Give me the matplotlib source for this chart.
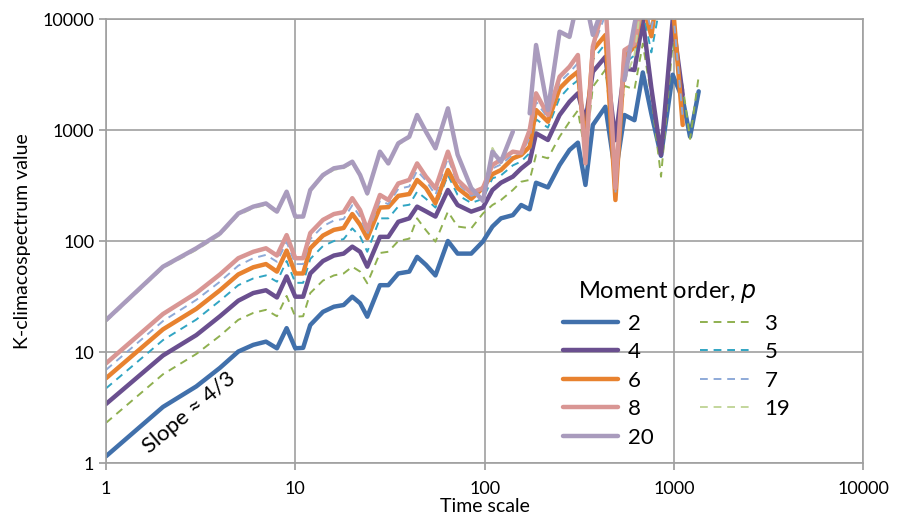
import numpy as np
import matplotlib.pyplot as plt
from matplotlib.ticker import FixedLocator, FixedFormatter, NullLocator

nan = np.nan

# time scales
scales = [1, 2, 3, 4, 5, 6, 7, 8, 9, 10, 11, 12, 14, 16, 18, 20, 22, 24,
          28, 31, 35, 40, 44, 49, 55, 64, 72, 85, 98, 110, 122, 141, 156,
          173, 187, 216, 249, 281, 311, 341, 373, 435, 491, 548, 619, 685,
          760, 855, 985, 1113, 1217, 1352]

p2 = [1.15, 3.2, 4.9, 7.2, 10.1, 11.6, 12.4, 10.8, 16.4, 10.8, 10.9, 17.5,
      23, 25.6, 26.5, 31.5, 27.5, 20.8, 40, 40, 51, 53, 72, 61, 49, 100, 77,
      77, 99, 135, 160, 171, 211, 193, 335, 304, 484, 661, 769, 320, 1110,
      1620, 400, 1365, 1225, 3300, 1400, 585, 3150, 1900, 870, 2230]
p3 = [2.3, 6.3, 9.6, 14, 19.5, 22.5, 24, 21, 32, 20.8, 21, 34, 44, 49, 51,
      58.7, 53, 41.6, 78, 80, 100, 105, 160, 125, 98.6, 184, 135, 130, 177,
      211, 234, 288, 342, 355, 595, 556, 871, 1188, 1500, 600, 2450, 3500,
      500, 2500, 2320, 6000, 2000, 380, 6000, 2500, 830, 3060]
p4 = [3.4, 9.3, 14.2, 21, 29, 34, 36, 31, 48, 31.5, 31.5, 51, 66, 74, 77, 89,
      80, 58.7, 109, 109, 149, 160, 204, 185, 166, 288, 211, 184, 200, 288,
      335, 380, 450, 518, 933, 813, 1365, 1800, 2140, 1200, 3350, 4570, 810,
      3590, 3470, 9800, 2400, 595, 9800, 2070, nan, nan]
p5 = [4.7, 12.8, 19.6, 29, 40, 46, 49, 43, 66, 42, 42, 69, 90, 100, 104, 130,
      110, 80, 160, 160, 205, 212, 278, 240, 200, 393, 260, 220, 240, 367,
      390, 480, 520, 620, 1250, 1050, 1950, 2450, 2800, 650, 4300, 6000, 300,
      4000, 4700, 12000, 5000, 15000, 12000, 1400, nan, nan]
p6 = [5.8, 16, 24.5, 36, 50, 58, 62, 53, 82, 51, 51, 86, 112, 126, 131, 175,
      140, 106, 200, 202, 255, 265, 355, 300, 219, 436, 300, 240, 300, 400,
      436, 556, 595, 708, 1514, 1188, 2370, 2920, 3350, 700, 5250, 7180, 234,
      4570, 5630, 14000, 7000, 30000, 14000, 1110, nan, nan]
p7 = [6.9, 19, 29.5, 43, 60, 70, 75, 65, 98, 62, 62, 104, 136, 153, 158, 210,
      165, 115, 230, 215, 295, 310, 430, 350, 260, 560, 330, 255, 280, 450,
      490, 600, 610, 850, 1800, 1280, 2700, 3300, 4000, 600, 5400, 11000, 270,
      5000, 5800, 15000, 8000, 25000, 13000, 1300, nan, nan]
p8 = [7.9, 22, 34, 50, 70, 80, 86, 74, 113, 70, 70, 118, 155, 175, 182, 243,
      190, 126, 260, 234, 330, 355, 500, 380, 298, 638, 355, 270, 300, 484,
      540, 638, 620, 1000, 2140, 1365, 3020, 3720, 4740, 500, 5630, 15000, 300,
      5250, 6000, 15000, nan, nan, nan, nan, nan, nan]
p19 = [18.8, 57, 83, 113, 171, 198, 211, 178, 270, 161, 161, 280, 381, 438,
       453, 502, 381, 261, 619, 485, 736, 845, 1324, 937, 663, 1520, 580, 290,
       225, 690, 501, 937, nan, 1370, 5650, 1470, 7460, 6710, 14500, 14500,
       7000, 14500, nan, 2740, 4740, 19000, nan, nan, nan, nan, nan, nan]
p20 = [19.4, 58.7, 86, 117, 177, 204, 218, 184, 278, 166, 166, 288, 393, 452,
       467, 518, 393, 269, 638, 500, 759, 871, 1365, 966, 684, 1567, 600, 300,
       230, 638, 517, 966, nan, 1413, 5830, 1514, 7690, 6920, 15000, 15000,
       7200, 15000, nan, 2820, 9000, 20000, nan, nan, nan, nan, nan, nan]

plt.rcParams['font.family'] = ['Lato', 'DejaVu Sans']

fig = plt.figure(figsize=(9.02, 5.22), dpi=100)
ax = fig.add_axes([0.1175, 0.113, 0.8395, 0.8506])

solid = dict(lw=3.2, solid_capstyle='round', solid_joinstyle='round')
dash = dict(lw=1.4, dashes=(4, 3))

series = [
    ('2', p2, '#4170ab', solid),
    ('3', p3, '#8fb050', dash),
    ('4', p4, '#6a4f8f', solid),
    ('5', p5, '#31a5c3', dash),
    ('6', p6, '#e8822f', solid),
    ('7', p7, '#8eaad8', dash),
    ('8', p8, '#d99694', solid),
    ('19', p19, '#c3d69b', dash),
    ('20', p20, '#a99bbd', solid),
]
handles = {}
for name, vals, col, st in series:
    ln, = ax.plot(scales, vals, color=col, label=name, **st)
    handles[name] = ln

ax.set_xscale('log')
ax.set_yscale('log')
ax.set_xlim(1, 10000)
ax.set_ylim(1, 10000)

dec = [1, 10, 100, 1000, 10000]
lab = ['1', '10', '100', '1000', '10000']
ax.xaxis.set_major_locator(FixedLocator(dec))
ax.xaxis.set_major_formatter(FixedFormatter(lab))
ax.yaxis.set_major_locator(FixedLocator(dec))
ax.yaxis.set_major_formatter(FixedFormatter(lab))
ax.xaxis.set_minor_locator(NullLocator())
ax.yaxis.set_minor_locator(NullLocator())
ax.tick_params(axis='both', labelsize=13, length=5, color='#9a9a9a', width=1.2)
ax.tick_params(axis='x', pad=8)

ax.grid(True, color='#a0a0a0', lw=1.2)
for s in ax.spines.values():
    s.set_color('#a0a0a0')
    s.set_linewidth(1.2)
ax.set_axisbelow(True)

ax.set_xlabel('Time scale', fontsize=14, labelpad=1)
ax.set_ylabel('K-climacospectrum value', fontsize=14, labelpad=8)

ax.text(2.75, 2.85, 'Slope ≈ 4/3', rotation=40, fontsize=16,
        ha='center', va='center')

# legend title drawn as its own text
ax.text(0.6235, 0.385, 'Moment order, $\\it{p}$', transform=ax.transAxes,
        fontsize=17, ha='left', va='center')

order = ['2', '4', '6', '8', '20', '3', '5', '7', '19']
leg = ax.legend([handles[k] for k in order], order, ncol=2, frameon=False,
                loc='upper left', bbox_to_anchor=(0.6037, 0.336),
                borderpad=0, borderaxespad=0,
                fontsize=16, handlelength=2.45, handletextpad=0.45,
                columnspacing=2.1, labelspacing=0.38)

fig.savefig('out.png', dpi=100)
